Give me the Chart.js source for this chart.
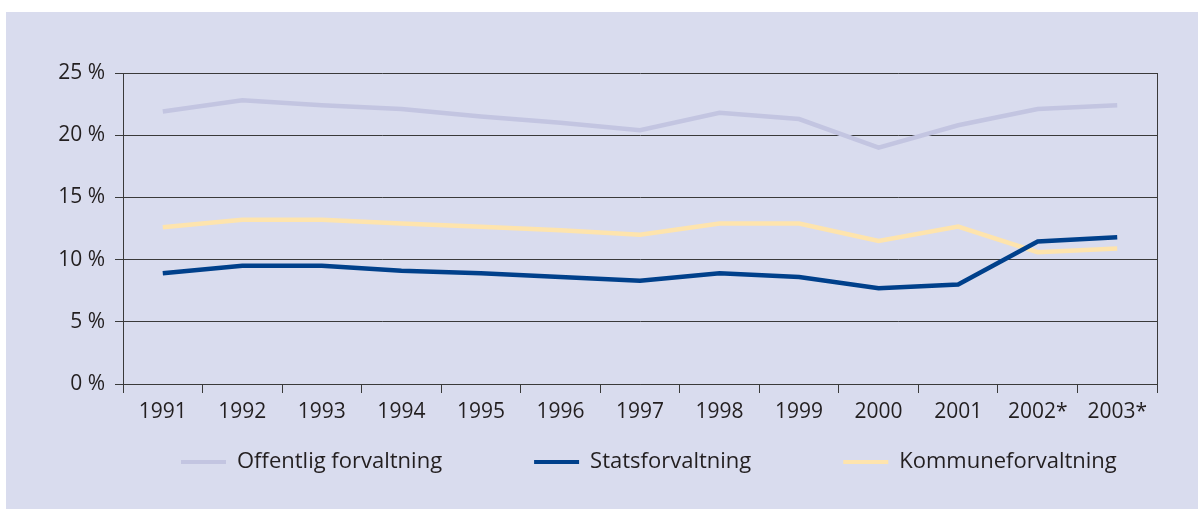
<!DOCTYPE html>
<html lang="no">
<head>
  <meta charset="UTF-8" />
  <title>Offentlig forvaltning</title>
  <script src="https://cdn.jsdelivr.net/npm/chart.js"></script>
  <style>
    html, body { margin: 0; padding: 0; background: #fff; }
    #wrap { width: 1198px; height: 509px; }
  </style>
</head>
<body>
  <div id="wrap"><canvas id="chart" width="1198" height="509"></canvas></div>

  <script>
    // data (percent)
    const years = ["1991", "1992", "1993", "1994", "1995", "1996", "1997", "1998", "1999", "2000", "2001", "2002*", "2003*"];
    const offentlig = [21.9, 22.8, 22.4, 22.1, 21.5, 21.0, 20.4, 21.8, 21.3, 19.0, 20.8, 22.1, 22.4];
    const stats = [8.9, 9.5, 9.5, 9.1, 8.9, 8.6, 8.3, 8.9, 8.6, 7.7, 8.0, 11.45, 11.8];
    const kommune = [12.6, 13.2, 13.2, 12.9, 12.65, 12.35, 12.0, 12.9, 12.9, 11.5, 12.65, 10.6, 10.9];
    const yMax = 25;
    const yStep = 5;

    const font = "'Open Sans', sans-serif";
    const textColor = "#231f20";
    const lineColor = "#3a3a3a";

    // light panel behind the chart
    const panel = {
      id: "panel",
      beforeDraw(chart) {
        const c = chart.ctx;
        c.save();
        c.fillStyle = "#d9dcee";
        c.fillRect(6, 12, chart.width - 6, chart.height - 12);
        c.restore();
      }
    };

    // legend needs wide gaps between items but sits close under the axis,
    // first sample starting at x=181 like the original
    const legendPos = {
      id: "legendPos",
      afterLayout(chart) {
        const lg = chart.legend;
        const pad = lg.options.labels.padding;
        lg.top = 451 - pad;
        const start = (lg.left + pad + lg.right - lg.lineWidths[0]) / 2;
        const dx = 181 - start;
        lg.left += dx;
        lg.right += dx;
      }
    };

    const ctx = document.getElementById("chart").getContext("2d");
    new Chart(ctx, {
      type: "line",
      data: {
        labels: years,
        datasets: [
          { label: "Offentlig forvaltning", data: offentlig, borderColor: "#c3c5e1", backgroundColor: "#c3c5e1" },
          { label: "Statsforvaltning", data: stats, borderColor: "#00408b", backgroundColor: "#00408b" },
          { label: "Kommuneforvaltning", data: kommune, borderColor: "#fee4ad", backgroundColor: "#fee4ad" }
        ]
      },
      options: {
        responsive: false,
        animation: false,
        elements: {
          line: { borderWidth: 4.5, tension: 0 },
          point: { radius: 0, borderWidth: 4 }
        },
        layout: { padding: { left: 0, top: 73, right: 41, bottom: 30 } },
        scales: {
          x: {
            offset: true,
            grid: { offset: true, drawOnChartArea: false, tickLength: 9, color: lineColor },
            border: { color: lineColor },
            ticks: { color: textColor, font: { family: font, size: 21 }, padding: 6, maxRotation: 0, autoSkip: false },
            afterFit: s => { s.height = 45; }
          },
          y: {
            min: 0,
            max: yMax,
            grid: { color: lineColor, tickLength: 8 },
            border: { color: lineColor },
            ticks: {
              stepSize: yStep,
              color: textColor,
              padding: 10,
              font: { family: font, size: 21 },
              callback: v => v + " %"
            },
            afterFit: s => { s.width = 123; }
          },
          y2: {
            position: "right",
            min: 0,
            max: yMax,
            grid: { drawOnChartArea: false, drawTicks: false },
            border: { color: lineColor },
            ticks: { display: false },
            afterFit: s => { s.width = 0; }
          }
        },
        plugins: {
          legend: {
            position: "bottom",
            fullSize: true,
            maxHeight: 50,
            labels: {
              usePointStyle: true,
              pointStyle: "line",
              pointStyleWidth: 45,
              padding: 92,
              color: textColor,
              font: { family: font, size: 22 }
            }
          },
          tooltip: { enabled: false }
        }
      },
      plugins: [panel, legendPos]
    });
  </script>
</body>
</html>
